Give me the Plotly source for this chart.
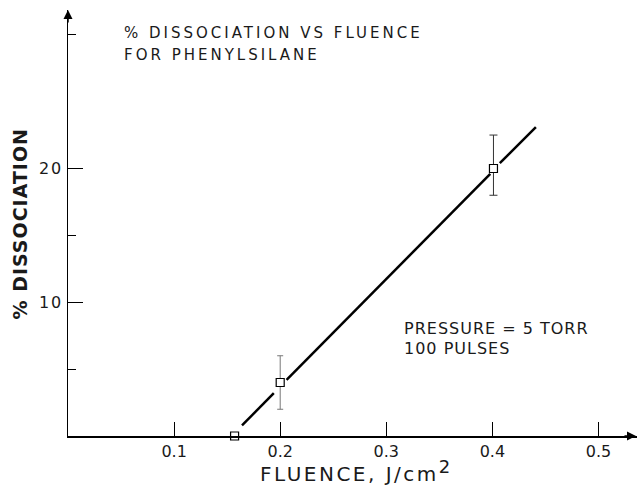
import plotly.graph_objects as go

# ---- data ----
pts_x = [0.157, 0.2, 0.401]          # fluence, J/cm^2
pts_y = [0.0, 4.0, 20.0]             # % dissociation

err1_x = [0.2]
err1_y = [4.0]
err1_plus = [2.0]
err1_minus = [2.0]

err2_x = [0.401]
err2_y = [20.0]
err2_plus = [2.5]
err2_minus = [2.0]

# fitted line (drawn with gaps at the markers)
line_x = [0.164, 0.194, None, 0.206, 0.398, None, 0.407, 0.441]
line_y = [0.8, 3.2, None, 4.2, 19.6, None, 20.4, 23.1]

x_tickvals = [0.1, 0.2, 0.3, 0.4, 0.5]
x_ticktext = ["0.1", "0.2", "0.3", "0.4", "0.5"]
y_tickvals = [10, 20]
y_ticktext = ["10", "20"]
y_minor_tickvals = [5, 15, 30]

title_lines = ["% DISSOCIATION VS FLUENCE", "FOR PHENYLSILANE"]
note_lines = ["PRESSURE = 5 TORR", "100 PULSES"]
x_title = "FLUENCE, J/cm"
x_title_sup = "2"
y_title = "% DISSOCIATION"

# ---- geometry ----
W, H = 637, 486
ML, MR, MT, MB = 68, 0, 10, 50
PW = W - ML - MR
PH = H - MT - MB
XMAX = PW / 1061.0
YMAX = PH / 13.375

FONT = "DejaVu Sans"
INK = "#1a1a1a"


def px(xp):
    return (xp - ML) / PW


def py(yp):
    return (H - MB - yp) / PH


def spaced(s, ls):
    return '<span style="letter-spacing:%spx">%s</span>' % (ls, s)


fig = go.Figure()

fig.add_trace(go.Scatter(
    x=line_x, y=line_y, mode="lines",
    line=dict(color="black", width=2.5),
    connectgaps=False, hoverinfo="skip", showlegend=False))

fig.add_trace(go.Scatter(
    x=err1_x, y=err1_y, mode="markers",
    marker=dict(size=1, color="rgba(0,0,0,0)"),
    error_y=dict(type="data", symmetric=False, array=err1_plus,
                 arrayminus=err1_minus, color="#777", thickness=1, width=3),
    showlegend=False, hoverinfo="skip"))

fig.add_trace(go.Scatter(
    x=err2_x, y=err2_y, mode="markers",
    marker=dict(size=1, color="rgba(0,0,0,0)"),
    error_y=dict(type="data", symmetric=False, array=err2_plus,
                 arrayminus=err2_minus, color="#333", thickness=1, width=4),
    showlegend=False, hoverinfo="skip"))

fig.add_trace(go.Scatter(
    x=pts_x, y=pts_y, mode="markers",
    marker=dict(symbol="square", size=8, color="white",
                line=dict(color="black", width=1.2)),
    cliponaxis=False, showlegend=False))

annotations = []
# title lines
for txt, yc in zip(title_lines, [33.5, 54.5]):
    annotations.append(dict(
        x=px(122), y=py(yc), xref="paper", yref="paper",
        xanchor="left", yanchor="middle", showarrow=False,
        text=spaced(txt, 3), font=dict(family=FONT, size=15, color=INK)))
# pressure note
for txt, yc in zip(note_lines, [328, 348]):
    annotations.append(dict(
        x=px(402), y=py(yc), xref="paper", yref="paper",
        xanchor="left", yanchor="middle", showarrow=False,
        text=spaced(txt, 1), font=dict(family=FONT, size=16, color=INK)))
# x axis title
annotations.append(dict(
    x=px(355), y=py(487.5), xref="paper", yref="paper",
    xanchor="center", yanchor="bottom", showarrow=False,
    text=spaced(x_title, 2.5) + '<sup><span style="font-size:18px">%s</span></sup>' % x_title_sup,
    font=dict(family=FONT, size=20, color=INK)))
# y axis title
annotations.append(dict(
    x=px(20), y=py(223.5), xref="paper", yref="paper",
    xanchor="center", yanchor="middle", showarrow=False, textangle=-90,
    text=spaced(y_title, 1),
    font=dict(family=FONT, size=19, color=INK, weight="bold")))
# axis arrowheads
annotations.append(dict(
    x=0, y=1, xref="paper", yref="paper", ax=0, ay=14, axref="pixel", ayref="pixel",
    showarrow=True, arrowhead=2, arrowsize=1.2, arrowwidth=1.5, arrowcolor="black", text=""))
annotations.append(dict(
    x=1, y=0, xref="paper", yref="paper", ax=-14, ay=0, axref="pixel", ayref="pixel",
    showarrow=True, arrowhead=2, arrowsize=1.2, arrowwidth=1.5, arrowcolor="black", text=""))

fig.update_layout(
    width=W, height=H,
    margin=dict(l=ML, r=MR, t=MT, b=MB, pad=0),
    paper_bgcolor="white", plot_bgcolor="white",
    showlegend=False,
    annotations=annotations,
    xaxis=dict(
        range=[0, XMAX], showgrid=False, zeroline=False,
        showline=True, linecolor="black", linewidth=1.5,
        tickmode="array", tickvals=x_tickvals, ticktext=x_ticktext,
        ticks="inside", ticklen=14, tickwidth=1.2, tickcolor="black",
        tickfont=dict(family=FONT, size=16, color=INK),
        fixedrange=True),
    yaxis=dict(
        range=[0, YMAX], showgrid=False, zeroline=False,
        showline=True, linecolor="black", linewidth=1.5,
        tickmode="array", tickvals=y_tickvals,
        ticktext=[spaced(t, 2) for t in y_ticktext],
        ticks="inside", ticklen=15, tickwidth=1.2, tickcolor="black",
        tickfont=dict(family=FONT, size=16, color=INK),
        minor=dict(tickmode="array", tickvals=y_minor_tickvals,
                   ticks="inside", ticklen=8, tickwidth=1.2,
                   tickcolor="black", showgrid=False),
        fixedrange=True),
)

fig.write_html(
    "out.html",
    config={"displayModeBar": False, "staticPlot": True},
    post_script="document.body.style.margin='0';document.body.style.padding='0';"
                "document.documentElement.style.overflow='hidden';",
)
